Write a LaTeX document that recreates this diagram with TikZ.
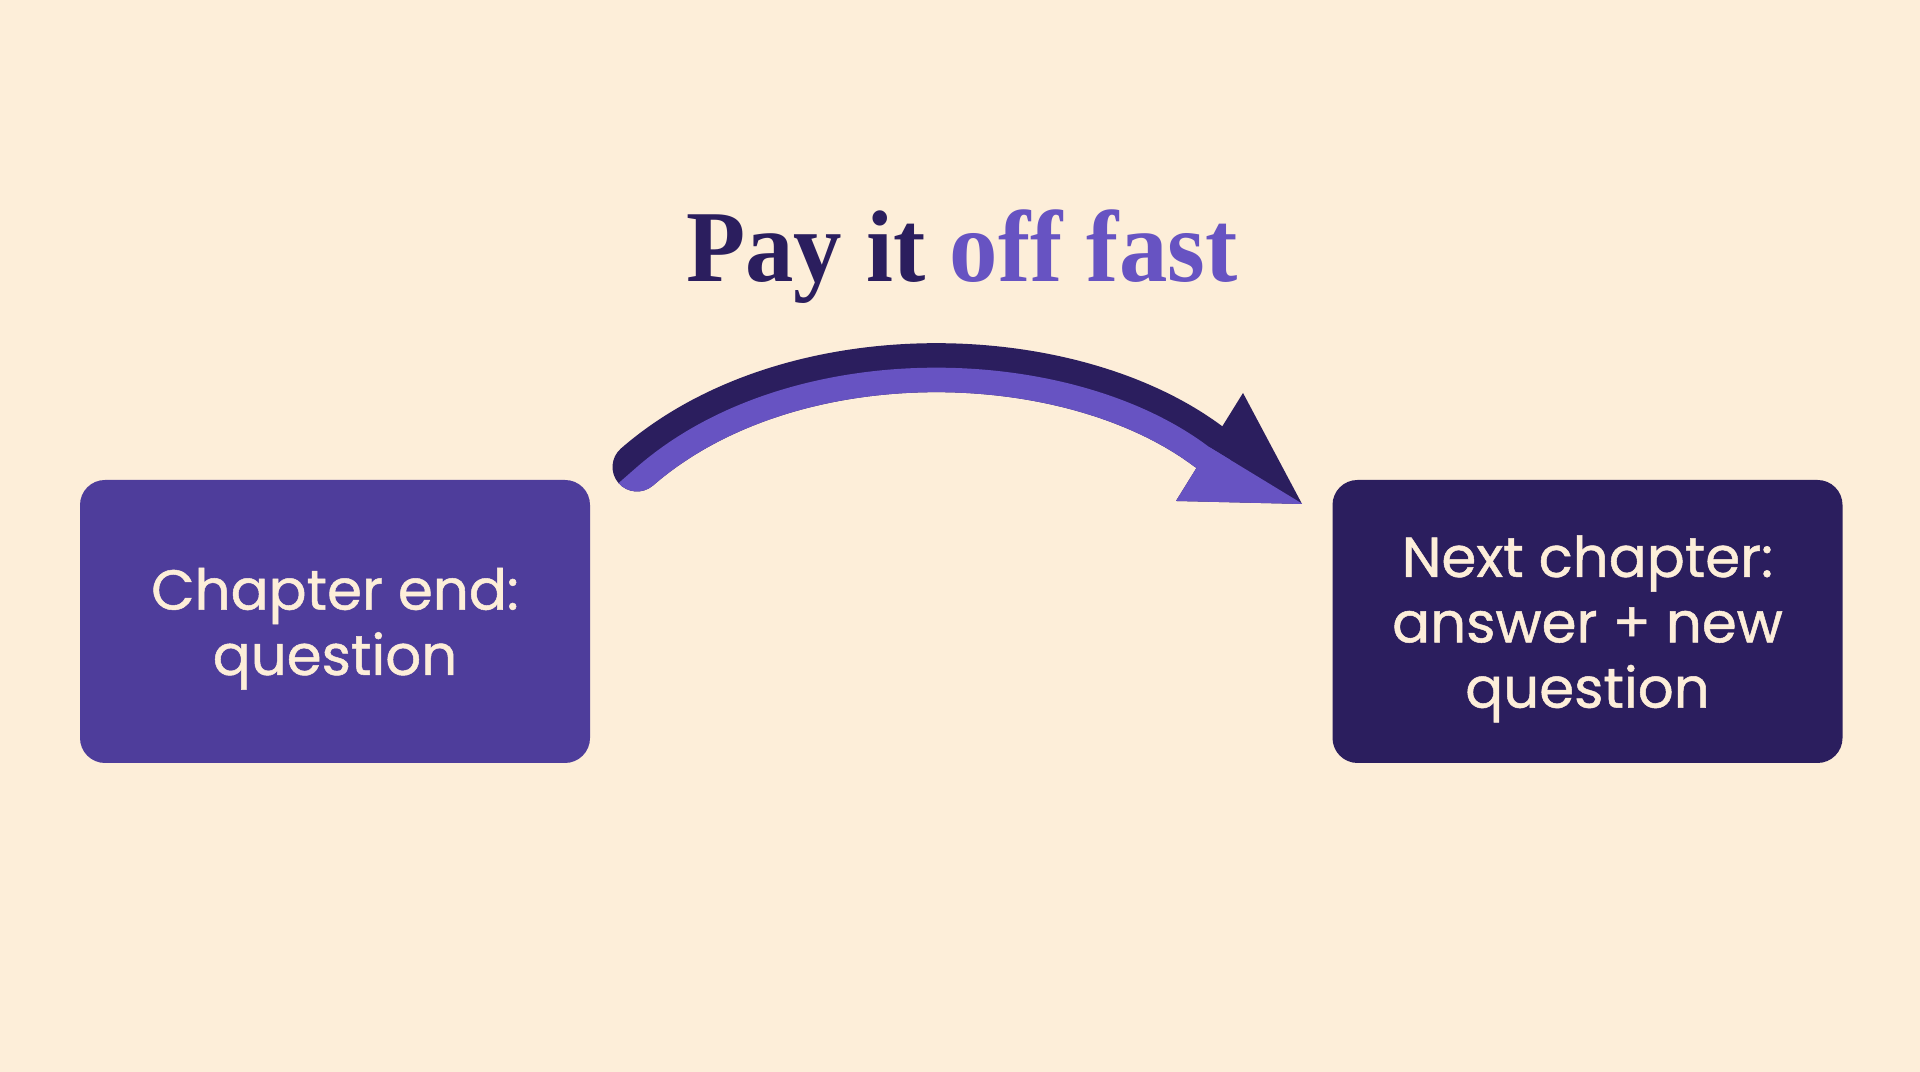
\documentclass[tikz,border=0pt]{standalone}
\usepackage{fontspec}
\setmainfont{Liberation Serif}
\newfontfamily\boxfont{Poppins}[FakeBold=0.9]
\usepackage{tikz}
\usetikzlibrary{positioning,calc}
\usepackage{xcolor}
\definecolor{cream}{HTML}{FDEED9}
\definecolor{ink}{HTML}{2B1E5E}
\definecolor{violet}{HTML}{4E3D9B}
\definecolor{lilac}{HTML}{6753C2}

\begin{document}
\begin{tikzpicture}[
    chapbox/.style={rectangle, minimum width=5.1cm, minimum height=2.83cm, rounded corners=0.25cm, align=center, text depth=0pt, text=cream, font=\boxfont\fontsize{16}{18.6}\selectfont},
    arrowdark/.style={draw=ink, line width=0.49cm, line cap=round},
    arrowlight/.style={draw=lilac, line width=0.49cm, line cap=round}
]
    % background
    \fill[cream] (0,0) rectangle (19.2,10.72);
    \useasboundingbox (0,0) rectangle (19.2,10.72);

    % title
    \node[anchor=base, font=\bfseries\fontsize{29}{32}\selectfont] (title) at (9.62,7.90) {\scalebox{0.95}[1]{\textcolor{ink}{Pay it} \textcolor{lilac}{off fast}}};

    % chapter end
    \node[chapbox, fill=violet] (ending) at (3.35,4.505) {Chapter end:\\question};

    % next chapter
    \node[chapbox, fill=ink] (next) at (15.875,4.505) {Next chapter:\\answer + new\\question};

    % arrow points
    \coordinate (tail) at (6.37,6.05);
    \coordinate (bendA) at (7.9,7.38);
    \coordinate (bendB) at (10.7,7.3);
    \coordinate (headmid) at (12.09,6.25);
    \coordinate (tip) at (13.02,5.68);
    \coordinate (headtop) at (12.43,6.79);
    \coordinate (headlow) at (11.76,5.71);

    % arrow - dark
    \draw[arrowdark] (tail) .. controls (bendA) and (bendB) .. (headmid);
    \fill[ink] (headtop) -- (tip) -- (headlow) -- cycle;

    % arrow - light lower half
    \begin{scope}
        \clip ($(tail)+(-0.4,-0.35)$) -- (tail) .. controls (bendA) and (bendB) .. (headmid) -- ($(tip)+(0.5,-0.3)$) -- (13.6,3) -- (5.5,3) -- cycle;
        \draw[arrowlight] (tail) .. controls (bendA) and (bendB) .. (headmid);
        \fill[lilac] (headtop) -- (tip) -- (headlow) -- cycle;
    \end{scope}
\end{tikzpicture}
\end{document}
